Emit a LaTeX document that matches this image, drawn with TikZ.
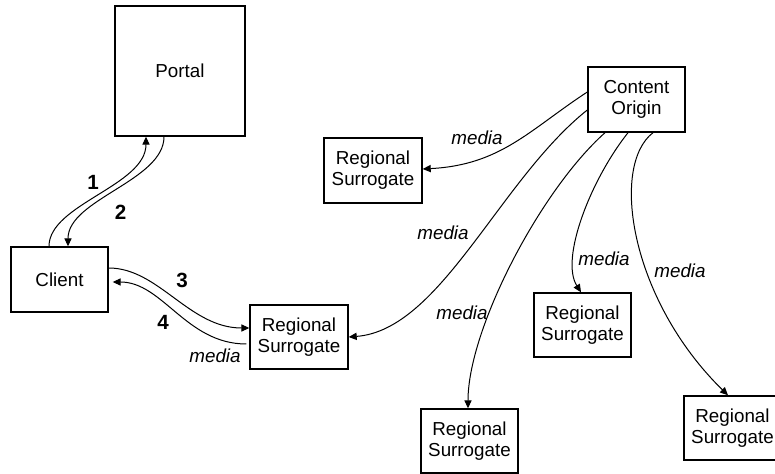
\documentclass[tikz,border=0pt]{standalone}
\usepackage{fontspec}
\setmainfont{Liberation Sans}
\usetikzlibrary{arrows.meta}
\begin{document}
\begin{tikzpicture}[x=0.5pt,y=-0.5pt,
  box/.style={draw, line width=0.7pt, inner sep=0pt, align=center,
    font=\fontsize{9.4pt}{10.5pt}\selectfont},
  flow/.style={line width=0.5pt, -{Triangle[length=4pt,width=3.6pt]}},
  num/.style={font=\fontsize{10.3pt}{11pt}\selectfont\bfseries},
  lbl/.style={font=\fontsize{9.4pt}{10.5pt}\selectfont\itshape}]
\useasboundingbox (0,0) rectangle (775,474);
\clip (0,0) rectangle (775,474);

% boxes
\node[box, minimum width=65pt, minimum height=65pt] (portal) at (180,71) {Portal};
\node[box, minimum width=48.5pt, minimum height=32.5pt] (client) at (59.5,279.5) {Client};
\node[box, minimum width=48.5pt, minimum height=32.5pt] (origin) at (636.5,99.5) {Content\\Origin};
\node[box, minimum width=49pt, minimum height=32.5pt] (rsa) at (373,170.5) {Regional\\Surrogate};
\node[box, minimum width=49pt, minimum height=32pt] (rsb) at (299,337) {Regional\\Surrogate};
\node[box, minimum width=48.5pt, minimum height=32pt] (rsc) at (582.5,325) {Regional\\Surrogate};
\node[box, minimum width=48.5pt, minimum height=32pt] (rsd) at (469.5,441) {Regional\\Surrogate};
\node[box, minimum width=48.5pt, minimum height=32pt] (rse) at (732.5,428) {Regional\\Surrogate};

% client <-> portal
\draw[flow] ([xshift=-5.25pt]client.north) .. controls +(0,-42) and +(0,49) .. ([xshift=-17pt]portal.south);
\draw[flow] ([xshift=-8pt]portal.south) .. controls +(0,44) and +(0,-47) .. ([xshift=4.25pt]client.north);

% client <-> nearby surrogate
\draw[flow] ([yshift=5.75pt]client.east) .. controls +(50,0) and +(-60,0) .. ([yshift=4.5pt]rsb.west);
\draw[flow] ([xshift=-1.5pt,yshift=-3.5pt]rsb.west) .. controls +(-60,0) and +(50,0) .. ([xshift=2pt,yshift=-1.25pt]client.east);

% content origin to the surrogates
\draw[flow] ([yshift=3.75pt]origin.west) .. controls +(-58,38) and +(78,-4) .. ([yshift=0.75pt]rsa.east);
\draw[flow] ([yshift=-5.25pt]origin.west) .. controls +(-88,70) and +(92,-7) .. (rsb.east);
\draw[flow] ([xshift=-15.75pt]origin.south) .. controls +(-65,58) and +(0,-79) .. ([xshift=-0.75pt]rsd.north);
\draw[flow] ([xshift=-4.25pt]origin.south) .. controls +(-38,48) and +(-21,-33) .. ([xshift=-0.75pt]rsc.north);
\draw[flow] ([xshift=8.25pt]origin.south) .. controls +(-43,33) and +(-98,-96) .. ([xshift=-2.25pt]rse.north);

% labels
\node[num] (n1) at (93,182) {1};
\node[num] (n2) at (120.5,212) {2};
\node[num] (n3) at (182,280) {3};
\node[num] (n4) at (163,322) {4};
\node[lbl] (m1) at (215,356) {media};
\node[lbl] (m2) at (477,138) {media};
\node[lbl] (m3) at (443,233) {media};
\node[lbl] (m4) at (462,313) {media};
\node[lbl] (m5) at (604,259) {media};
\node[lbl] (m6) at (680,271) {media};
\end{tikzpicture}
\end{document}
